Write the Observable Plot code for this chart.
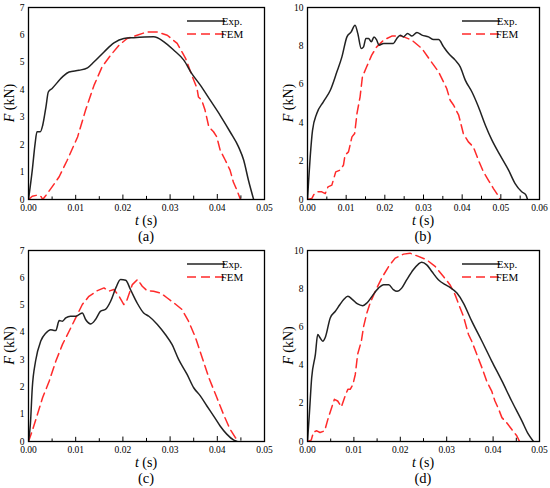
<!DOCTYPE html>
<html>
<head>
<meta charset="utf-8">
<script src="https://cdn.jsdelivr.net/npm/d3@7"></script>
<script src="https://cdn.jsdelivr.net/npm/@observablehq/plot@0.6"></script>
<style>
  body { margin: 0; background: #fff; }
  #wrap { position: relative; width: 550px; height: 488px; background: #fff; }
  #wrap svg { position: absolute; }
  #wrap svg text { font-family: "Liberation Serif", "Times New Roman", "DejaVu Serif", serif !important; }
</style>
</head>
<body>
<div id="wrap"></div>
<script>
// ---------- Data (t in s, F in kN) ----------
// Panel (a)
const expA_t = [0,0.0008,0.0014,0.0018,0.0025,0.003,0.0037,0.0042,0.005,0.0072,0.0086,0.0107,0.0125,0.0139,0.016,0.0181,0.0202,0.0223,0.0265,0.0287,0.0308,0.0329,0.0346,0.0364,0.0385,0.0406,0.0427,0.0445,0.0456,0.0466,0.0477];
const expA_F = [0,1.07,2.04,2.47,2.47,2.7,3.38,3.92,4.05,4.47,4.65,4.71,4.8,5.02,5.38,5.71,5.87,5.9,5.93,5.75,5.44,5.08,4.59,4.17,3.62,3.07,2.47,1.92,1.43,0.7,0];
const femA_t = [0,0.0008,0.0019,0.0027,0.003,0.004,0.005,0.0065,0.0082,0.0104,0.0121,0.0139,0.0156,0.0174,0.0192,0.0209,0.023,0.0251,0.0273,0.0294,0.0315,0.0333,0.0346,0.0357,0.036,0.0367,0.0374,0.0382,0.0392,0.0399,0.0406,0.0417,0.0427,0.0434,0.0443,0.0449];
const femA_F = [0,0.12,0.16,0.1,0.0,0.22,0.46,0.83,1.43,2.28,3.26,4.17,4.84,5.26,5.63,5.87,5.99,6.11,6.11,5.99,5.69,5.14,4.53,4.05,3.74,3.62,3.26,2.65,2.47,2.28,1.8,1.43,1.07,0.64,0.28,0];
// Panel (b)
const expB_t = [0,0.0003,0.0007,0.0013,0.0024,0.0041,0.0059,0.0076,0.0089,0.0102,0.0113,0.0123,0.013,0.0139,0.0145,0.0151,0.0158,0.0165,0.0172,0.0179,0.0185,0.0197,0.0209,0.0222,0.0231,0.024,0.0248,0.0259,0.027,0.0283,0.0296,0.0313,0.0326,0.0339,0.0352,0.0365,0.0382,0.0395,0.0408,0.0425,0.0442,0.046,0.0477,0.0498,0.052,0.0537,0.0554,0.0565,0.0569];
const expB_F = [0,1.0,2.22,3.6,4.48,5.09,5.69,6.65,7.43,8.47,8.73,9.08,8.65,7.86,7.95,8.39,8.39,8.21,8.47,8.3,8.04,8.13,8.13,8.13,8.39,8.56,8.47,8.65,8.51,8.7,8.56,8.47,8.33,8.33,7.95,7.6,7.26,6.91,6.22,5.61,4.83,3.87,3.09,2.31,1.53,0.83,0.4,0.23,0];
const femB_t = [0,0.0011,0.0018,0.0027,0.0037,0.0046,0.0053,0.0063,0.0073,0.0084,0.0093,0.0097,0.0106,0.0115,0.0122,0.0128,0.0136,0.0142,0.0153,0.0166,0.0179,0.0197,0.0218,0.0244,0.027,0.0296,0.0317,0.0339,0.036,0.0369,0.0378,0.0391,0.0403,0.0416,0.0429,0.0442,0.0455,0.0468,0.0481,0.0492,0.0498];
const femB_F = [0,0.05,0.31,0.4,0.4,0.31,0.66,0.75,1.44,1.53,1.79,2.31,2.48,3.26,3.44,4.48,5.35,6.39,6.91,7.52,7.95,8.3,8.51,8.51,8.3,7.86,7.26,6.65,5.78,5.17,4.91,4.39,3.44,3.0,2.74,2.05,1.44,1.0,0.57,0.23,0];
// Panel (c)
const expC_t = [0,0.0004,0.0008,0.0015,0.0026,0.0037,0.0047,0.0054,0.0058,0.0065,0.0072,0.0079,0.0089,0.01,0.0107,0.0114,0.0121,0.0132,0.0142,0.0153,0.0163,0.0174,0.0185,0.0195,0.0206,0.0216,0.023,0.0244,0.0255,0.0273,0.029,0.0304,0.0318,0.0336,0.035,0.0364,0.0378,0.0392,0.0406,0.042,0.0435,0.0442];
const expC_F = [0,0.63,1.97,2.95,3.68,3.98,4.1,4.07,4.07,4.43,4.41,4.53,4.59,4.59,4.65,4.71,4.47,4.31,4.47,4.78,4.84,5.14,5.63,5.94,5.91,5.57,5.08,4.71,4.59,4.29,3.92,3.56,3.01,2.46,1.97,1.67,1.3,0.94,0.57,0.27,0.05,0];
const femC_t = [0,0.0008,0.0019,0.003,0.0044,0.0058,0.0072,0.0086,0.01,0.0114,0.0128,0.0146,0.016,0.017,0.0181,0.0192,0.0202,0.0209,0.022,0.0231,0.0241,0.0251,0.0265,0.028,0.0294,0.0311,0.0325,0.0339,0.0354,0.0368,0.0382,0.0399,0.0413,0.0427,0.0438,0.0445];
const femC_F = [0,0.39,1.0,1.61,2.22,2.95,3.56,4.04,4.53,5.02,5.32,5.53,5.63,5.51,5.57,5.32,5.02,5.2,5.75,5.94,5.69,5.53,5.51,5.44,5.26,5.04,4.84,4.41,3.8,3.07,2.34,1.61,1.0,0.45,0.15,0];
// Panel (d)
const expD_t = [0,0.0004,0.0009,0.0017,0.0022,0.0027,0.0033,0.0038,0.0049,0.006,0.007,0.0078,0.0087,0.0097,0.0108,0.0119,0.0128,0.0139,0.0153,0.0164,0.0175,0.0185,0.0193,0.0203,0.0214,0.0228,0.0239,0.0246,0.0257,0.0268,0.0282,0.0297,0.0307,0.0322,0.0336,0.0354,0.0376,0.0397,0.0419,0.044,0.0462,0.0476,0.0487];
const expD_F = [0,1.43,3.34,4.56,5.6,5.43,5.25,5.43,6.47,6.82,7.17,7.43,7.6,7.43,7.2,7.11,7.25,7.6,8.03,8.21,8.21,7.95,7.86,8.03,8.47,8.99,9.29,9.39,9.25,8.9,8.47,8.21,8.07,7.77,7.25,6.3,5.25,4.21,3.17,2.12,1.08,0.38,0];
const femD_t = [0,0.0008,0.0013,0.002,0.0027,0.0037,0.0044,0.0052,0.0058,0.0065,0.0073,0.0081,0.0087,0.0092,0.0098,0.0103,0.0108,0.0116,0.0121,0.0128,0.0135,0.0146,0.016,0.0175,0.0189,0.0207,0.0221,0.0239,0.0257,0.0275,0.0293,0.0307,0.0318,0.0329,0.0336,0.034,0.0347,0.0354,0.0365,0.0376,0.0386,0.0397,0.0404,0.0412,0.0419,0.0429,0.044,0.0451,0.0457];
const femD_F = [0,0.07,0.5,0.56,0.47,0.56,1.17,1.77,2.21,2.12,1.81,2.38,2.73,2.73,2.99,3.51,4.56,5.25,6.03,6.73,7.25,7.86,8.56,9.17,9.6,9.81,9.86,9.69,9.51,9.17,8.64,8.21,7.69,6.99,6.56,6.21,5.6,5.25,4.56,3.86,3.17,2.64,2.12,1.69,1.25,0.99,0.64,0.3,0];

// Axis settings
const panelLabels = ["(a)", "(b)", "(c)", "(d)"];
const xMaxes = [0.05, 0.06, 0.05, 0.05];
const yMaxes = [7, 10, 7, 10];
const yMajorSteps = [1, 2, 1, 2];
const legendLabels = ["Exp.", "FEM"];

// ---------- Drawing ----------
const SERIF = '"Liberation Serif", "Times New Roman", "DejaVu Serif", serif';
const zip = (ts, fs) => ts.map((t, i) => ({t, F: fs[i]}));
const series = [
  [zip(expA_t, expA_F), zip(femA_t, femA_F)],
  [zip(expB_t, expB_F), zip(femB_t, femB_F)],
  [zip(expC_t, expC_F), zip(femC_t, femC_F)],
  [zip(expD_t, expD_F), zip(femD_t, femD_F)]
];
const layout = [
  {left: 0,   top: 0,   mL: 28, mR: 11, mT: 7, mB: 45},
  {left: 275, top: 0,   mL: 32, mR: 11, mT: 7, mB: 45},
  {left: 0,   top: 244, mL: 28, mR: 11, mT: 6, mB: 47},
  {left: 275, top: 244, mL: 32, mR: 11, mT: 6, mB: 47}
];
const EXP_COLOR = "#222";
const FEM_COLOR = "#ff2a2a";
const tickShape = {draw(ctx, l) { ctx.moveTo(0, 0); ctx.lineTo(0, -l); }};
const wrap = document.getElementById("wrap");
const W = 275, H = 244;

for (let i = 0; i < 4; i++) {
  const L = layout[i];
  const xMax = xMaxes[i], yMax = yMaxes[i], ys = yMajorSteps[i];
  const xMajor = d3.range(0, xMax + 1e-9, 0.01);
  const xMinor = d3.range(0.005, xMax, 0.01);
  const yMajor = d3.range(0, yMax + 1e-9, ys);
  const yMinor = d3.range(ys / 2, yMax, ys);
  const [exp, fem] = series[i];

  const svg = Plot.plot({
    width: W, height: H,
    marginLeft: L.mL, marginRight: L.mR, marginTop: L.mT, marginBottom: L.mB,
    style: {fontFamily: SERIF, fontSize: "9.5px", color: "black", background: "white"},
    x: {domain: [0, xMax], axis: null},
    y: {domain: [0, yMax], axis: null},
    marks: [
      Plot.line(fem, {x: "t", y: "F", stroke: FEM_COLOR, strokeWidth: 1.5, strokeDasharray: "9,5", clip: true}),
      Plot.line(exp, {x: "t", y: "F", stroke: EXP_COLOR, strokeWidth: 1.5, curve: "monotone-x", clip: true}),
      Plot.axisX(xMajor, {anchor: "bottom", label: null, tickSize: 0, tickPadding: 5, tickFormat: d3.format(".2f"), fontSize: 9.5, fontFamily: SERIF}),
      Plot.axisY(yMajor, {anchor: "left", label: null, tickSize: 0, tickPadding: 4, tickFormat: d => String(d), fontSize: 9.5, fontFamily: SERIF}),
      Plot.vectorY(xMajor, {x: d => d, frameAnchor: "bottom", length: 4, rotate: 0, anchor: "start", shape: tickShape, strokeWidth: 1}),
      Plot.vectorY(xMinor, {x: d => d, frameAnchor: "bottom", length: 2.5, rotate: 0, anchor: "start", shape: tickShape, strokeWidth: 1}),
      Plot.vectorX(yMajor, {y: d => d, frameAnchor: "left", length: 4, rotate: 90, anchor: "start", shape: tickShape, strokeWidth: 1}),
      Plot.vectorX(yMinor, {y: d => d, frameAnchor: "left", length: 2.5, rotate: 90, anchor: "start", shape: tickShape, strokeWidth: 1}),
      Plot.frame({stroke: "black", strokeWidth: 1.3})
    ]
  });
  svg.style.left = L.left + "px";
  svg.style.top = L.top + "px";
  svg.setAttribute("font-family", SERIF);
  wrap.appendChild(svg);

  const s = d3.select(svg);
  const fx0 = L.mL, fx1 = W - L.mR, fy0 = L.mT, fy1 = H - L.mB;
  const cx = (fx0 + fx1) / 2, cy = (fy0 + fy1) / 2;

  // x label: t (s)
  const xl = s.append("text").attr("x", cx).attr("y", fy1 + 26).attr("text-anchor", "middle")
    .attr("font-size", 14).attr("fill", "black");
  xl.append("tspan").attr("font-style", "italic").text("t");
  xl.append("tspan").text(" (s)");
  // panel caption
  s.append("text").attr("x", cx).attr("y", fy1 + 42).attr("text-anchor", "middle")
    .attr("font-size", 14.5).attr("fill", "black").text(panelLabels[i]);
  // y label: F (kN)
  const yl = s.append("text").attr("transform", `translate(${L.mL - 14},${cy}) rotate(-90)`)
    .attr("text-anchor", "middle").attr("font-size", 14).attr("fill", "black");
  yl.append("tspan").attr("font-style", "italic").text("F");
  yl.append("tspan").text(" (kN)");

  // legend
  const lg = s.append("g");
  [[EXP_COLOR, null, 14], [FEM_COLOR, "9,5", 27]].forEach(([c, dash, dy], k) => {
    const yy = fy0 + dy;
    const ln = lg.append("line").attr("x1", 187).attr("x2", 225).attr("y1", yy).attr("y2", yy)
      .attr("stroke", c).attr("stroke-width", 1.5);
    if (dash) ln.attr("stroke-dasharray", dash);
    lg.append("text").attr("x", 232).attr("y", yy).attr("dy", "0.35em")
      .attr("font-size", 11).attr("fill", "black").text(legendLabels[k]);
  });
}
</script>
</body>
</html>
